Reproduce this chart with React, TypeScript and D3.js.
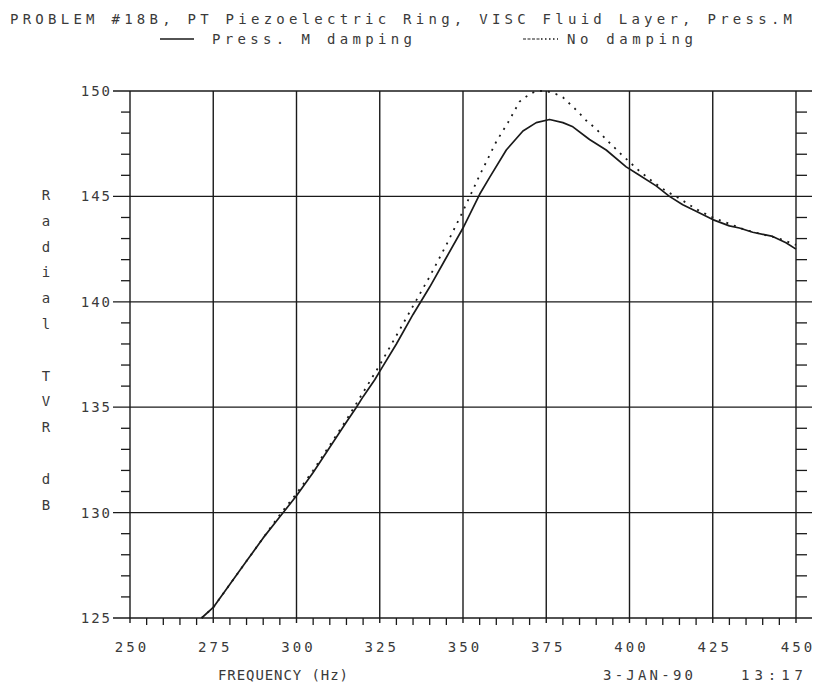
import React from "react";
import * as d3 from "d3";

const title = "PROBLEM #18B, PT Piezoelectric Ring, VISC Fluid Layer, Press.M";
const seriesNames = ["Press. M damping", "No damping"];
const xTicks = [250, 275, 300, 325, 350, 375, 400, 425, 450];
const yTicks = [125, 130, 135, 140, 145, 150];
const xLabel = "FREQUENCY (Hz)";
const yLabelChars = ["R", "a", "d", "i", "a", "l", "", "T", "V", "R", "", "d", "B"];
const stamp = ["3-JAN-90", "13:17"];

const dampedFreq = [271.5, 275, 280, 285, 290, 295, 300, 305, 310, 315, 318, 320, 323.5, 325, 330, 335, 340, 345, 350, 355, 358, 363, 368, 372, 376, 380, 383, 388, 393, 399, 403, 408, 412, 416, 420, 425, 430, 433, 437, 443, 447, 450];
const dampedDb = [125.0, 125.5, 126.6, 127.7, 128.8, 129.8, 130.8, 131.9, 133.1, 134.3, 135.0, 135.5, 136.3, 136.7, 138.0, 139.4, 140.7, 142.1, 143.5, 145.1, 145.9, 147.2, 148.1, 148.5, 148.65, 148.5, 148.3, 147.7, 147.2, 146.4, 146.0, 145.5, 145.0, 144.6, 144.3, 143.9, 143.6, 143.5, 143.3, 143.1, 142.8, 142.5];

const undampedFreq = [271.5, 275, 280, 285, 290, 295, 300, 305, 310, 315, 320, 325, 330, 335, 340, 345, 350, 355, 360, 363.5, 367, 370, 372, 375, 378, 380, 384, 387, 390, 393, 397.5, 403, 407, 411, 415, 420, 425, 430, 435, 440, 445, 450];
const undampedDb = [125.0, 125.5, 126.6, 127.7, 128.8, 129.9, 130.9, 132.0, 133.2, 134.4, 135.7, 137.0, 138.4, 139.8, 141.2, 142.7, 144.3, 146.0, 147.6, 148.5, 149.5, 149.85, 150.0, 150.0, 149.85, 149.7, 149.1, 148.6, 148.2, 147.7, 147.0, 146.2, 145.7, 145.25, 144.9, 144.4, 144.0, 143.7, 143.4, 143.2, 143.0, 142.7];

export default function App() {
  const x = d3.scaleLinear().domain([250, 450]).range([130, 796]);
  const y = d3.scaleLinear().domain([125, 150]).range([618, 91]);
  const line = d3
    .line<[number, number]>()
    .x((d) => x(d[0]))
    .y((d) => y(d[1]))
    .curve(d3.curveLinear);
  const damped: [number, number][] = dampedFreq.map((f, i) => [f, dampedDb[i]]);
  const undamped: [number, number][] = undampedFreq.map((f, i) => [f, undampedDb[i]]);

  const xMinor = d3.range(250, 451, 5).filter((v) => v % 25 !== 0);
  const yMinor = d3.range(125, 151, 1).filter((v) => v % 5 !== 0);

  const ink = "#1a1a1a";
  const textInk = "#3a3a3a";
  const font = "'DejaVu Sans Mono', 'Liberation Mono', monospace";

  return (
    <svg width={822} height={689} style={{ position: "absolute", left: 0, top: 0, background: "#fff" }}>
      <rect width={822} height={689} fill="#fff" />
      <g fontFamily={font} fill={textInk} fontSize={14}>
        <text x={10} y={24} textLength={782} lengthAdjust="spacing">{title}</text>
        <text x={212} y={44} textLength={200} lengthAdjust="spacing">{seriesNames[0]}</text>
        <text x={567} y={44} textLength={126} lengthAdjust="spacing">{seriesNames[1]}</text>
      </g>
      <line x1={160} x2={194} y1={39} y2={39} stroke={ink} strokeWidth={1.5} />
      <line x1={523} x2={540} y1={39} y2={39} stroke={ink} strokeWidth={1.2} strokeDasharray="3,1.5" />
      <line x1={541} x2={558} y1={39} y2={39} stroke={ink} strokeWidth={1.5} strokeDasharray="1.5,2.5" />

      {/* horizontal grid lines */}
      {yTicks.map((v) => (
        <line key={"h" + v} x1={113} x2={812} y1={y(v)} y2={y(v)} stroke={ink} strokeWidth={1.3} />
      ))}
      {/* vertical grid lines */}
      {xTicks.map((v) => (
        <line key={"v" + v} x1={x(v)} x2={x(v)} y1={y(150)} y2={y(125) + 5} stroke={ink} strokeWidth={1.4} />
      ))}
      {/* minor ticks */}
      {yMinor.map((v) => (
        <g key={"ym" + v}>
          <line x1={121} x2={x(250)} y1={y(v)} y2={y(v)} stroke={ink} strokeWidth={1.3} />
          <line x1={x(450)} x2={807} y1={y(v)} y2={y(v)} stroke={ink} strokeWidth={1.3} />
        </g>
      ))}
      {xMinor.map((v) => (
        <line key={"xm" + v} x1={x(v)} x2={x(v)} y1={y(125)} y2={y(125) + 7} stroke={ink} strokeWidth={1.3} />
      ))}

      {/* tick labels */}
      <g fontFamily={font} fill={textInk} fontSize={14}>
        {yTicks.map((v) => (
          <text key={"yl" + v} x={112} y={y(v) + 5} textAnchor="end" letterSpacing={2}>{v}</text>
        ))}
        {xTicks.map((v) => (
          <text key={"xl" + v} x={x(v) + 2} y={652} textAnchor="middle" letterSpacing={3}>{v}</text>
        ))}
        {yLabelChars.map((c, i) => (
          <text key={"yc" + i} x={46} y={200 + i * 25.8} textAnchor="middle">{c}</text>
        ))}
        <text x={218} y={680} textLength={130} lengthAdjust="spacing">{xLabel}</text>
        <text x={603} y={680} textLength={90} lengthAdjust="spacing">{stamp[0]}</text>
        <text x={741} y={680} textLength={62} lengthAdjust="spacing">{stamp[1]}</text>
      </g>

      {/* data curves */}
      <path d={line(undamped) || ""} fill="none" stroke={ink} strokeWidth={1.8} strokeDasharray="2,6" />
      <path d={line(damped) || ""} fill="none" stroke={ink} strokeWidth={1.7} strokeLinejoin="round" />
    </svg>
  );
}
